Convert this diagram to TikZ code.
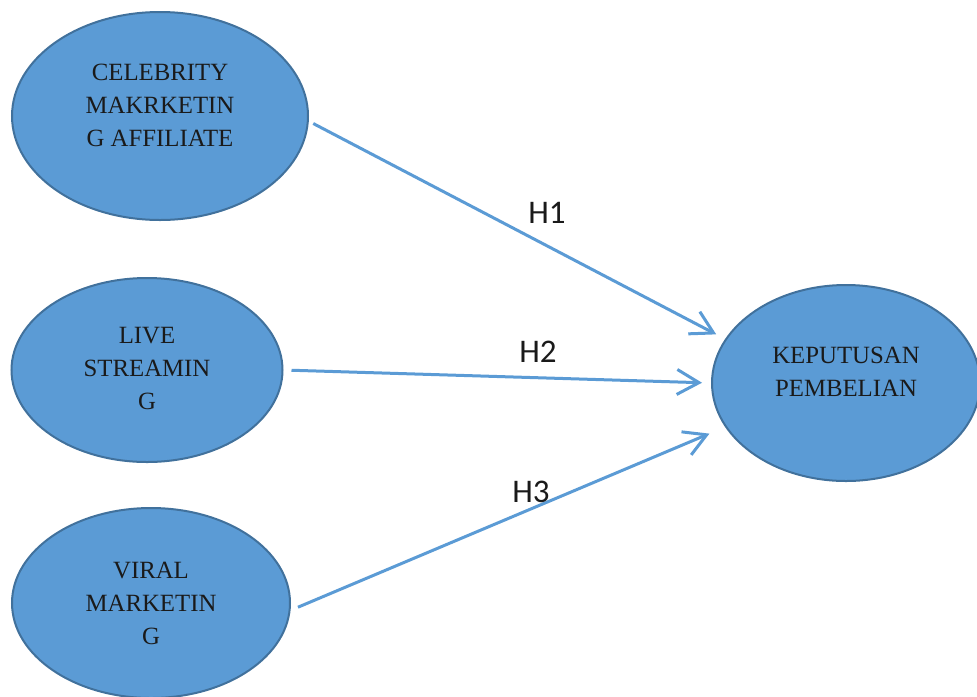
\documentclass[tikz,border=0pt]{standalone}
\usepackage{fontspec}
\setmainfont{Liberation Serif}
\newfontfamily\hypfont{Carlito}
\usepackage{tikz}
\usetikzlibrary{arrows.meta,shapes.geometric}
\definecolor{varblue}{HTML}{5B9BD5}
\definecolor{varedge}{HTML}{41719C}
\definecolor{ink}{HTML}{1A1A1A}
\tikzset{
  varnode/.style={
    ellipse, draw=varedge, fill=varblue, line width=1pt,
    inner sep=0pt
  },
  vartext/.style={
    font=\fontsize{12.4}{16.5}\selectfont, align=center,
    text=ink, inner sep=0pt
  },
  hyparrow/.style={
    -{Straight Barb[length=11pt,width=12.5pt]}, line width=1.5pt, color=#1
  },
  hyparrow/.default=varblue,
  hyplabel/.style={
    font=\hypfont\fontsize{16.5}{20}\selectfont, text=ink
  },
}

\begin{document}
\begin{tikzpicture}[x=0.5pt,y=-0.5pt]
  \useasboundingbox (0,0) rectangle (977,696);

  \node[varnode, minimum width=148pt, minimum height=104pt] (cma) at (160,116) {};
  \node[varnode, minimum width=135.5pt, minimum height=92pt] (ls) at (147,370) {};
  \node[varnode, minimum width=139pt, minimum height=95pt] (vm) at (151,603) {};
  \node[varnode, minimum width=134pt, minimum height=98pt] (kp) at (846,383) {};

  \node[vartext] (cma-t) at ([yshift=5.5pt]cma.center) {CELEBRITY\\MAKRKETIN\\G AFFILIATE};
  \node[vartext] (ls-t) at ([yshift=1pt]ls.center) {LIVE\\STREAMIN\\G};
  \node[vartext] (vm-t) at (vm.center) {VIRAL\\MARKETIN\\G};
  \node[vartext] (kp-t) at ([yshift=5.5pt]kp.center) {KEPUTUSAN\\PEMBELIAN};

  \draw[hyparrow, shorten <=2.5pt, shorten >=5pt] (cma.-2) -- (kp.160);
  \draw[hyparrow, shorten <=4pt, shorten >=4.5pt] (ls.east) -- (kp.west);
  \draw[hyparrow, shorten <=4pt, shorten >=8.5pt] (vm.-3) -- (kp.200);

  % Hypotheses
  \node[hyplabel] (h1) at (547,213) {H1};
  \node[hyplabel] (h2) at (538,352) {H2};
  \node[hyplabel] (h3) at (531,492) {H3};
\end{tikzpicture}
\end{document}
